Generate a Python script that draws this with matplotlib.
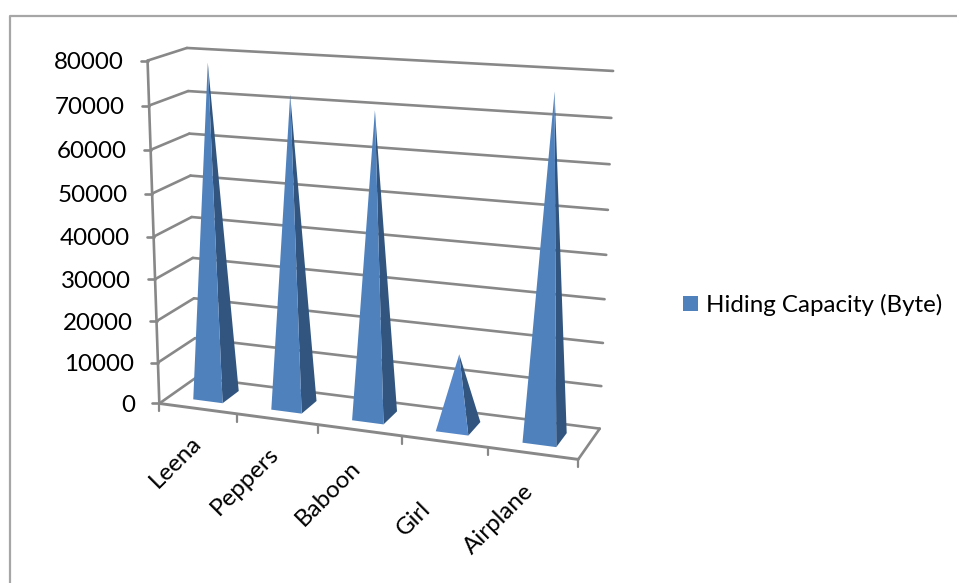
import numpy as np
import matplotlib
matplotlib.use("Agg")
import matplotlib.pyplot as plt
from matplotlib.patches import Polygon, Patch

plt.rcParams['font.family'] = ['Lato', 'DejaVu Sans']

categories = ["Leena", "Peppers", "Baboon", "Girl", "Airplane"]
capacity = [78600, 72600, 70300, 17000, 76700]
series_name = "Hiding Capacity (Byte)"
y_ticks = [0, 10000, 20000, 30000, 40000, 50000, 60000, 70000, 80000]
Y_MAX = 80000

# Box calibration for the oblique 3-D view: (x, depth, height) -> pixel
BOX = [(0, 0, 0), (0, 0, 1), (0, 1, 0), (0, 1, 1), (1, 1, 0), (1, 1, 1), (1, 0, 0)]
PIX = [(160.5, 403), (146.5, 60.5), (195, 378), (188, 48), (600, 428), (613, 71), (578, 460)]


def fit_projection(box, pix):
    rows = []
    for (x, d, h), (u, v) in zip(box, pix):
        u, v = u / 1000, v / 1000
        rows.append([x, d, h, 1, 0, 0, 0, 0, -u * x, -u * d, -u * h, -u])
        rows.append([0, 0, 0, 0, x, d, h, 1, -v * x, -v * d, -v * h, -v])
    return np.linalg.svd(np.array(rows))[2][-1].reshape(3, 4)


P = fit_projection(BOX, PIX)


def proj(x, d, value):
    w = P @ np.array([x, d, value / Y_MAX, 1.0])
    return w[0] / w[2] * 1000, w[1] / w[2] * 1000


fig = plt.figure(figsize=(9.57, 5.83), dpi=100)
ax = fig.add_axes([0, 0, 1, 1])
ax.set_xlim(0, 957)
ax.set_ylim(583, 0)
ax.axis("off")

GRID = "#888888"
LW = 1.9
FS = 17.4


def seg(a, b, lw=LW, color=GRID, z=1):
    ax.plot([a[0], b[0]], [a[1], b[1]], color=color, lw=lw, zorder=z,
            solid_capstyle="round")


# outer chart frame
ax.plot([9.5, 9.5, 957], [583, 15.5, 15.5], color="#a6a6a6", lw=1.6, zorder=0)

# gridlines on side and back walls, ticks and labels
for t in y_ticks:
    fl, bl, br = proj(0, 0, t), proj(0, 1, t), proj(1, 1, t)
    seg(fl, bl)
    seg(bl, br)
    seg((fl[0] - 7, fl[1]), fl)
    ax.text(fl[0] - 24, fl[1] + 2, f"{t}", ha="right", va="center",
            fontsize=FS, color="black", zorder=5)

# vertical axis and floor
seg(proj(0, 0, 0), proj(0, 0, Y_MAX))
seg(proj(0, 0, 0), proj(1, 0, 0), lw=2.1)
seg(proj(1, 0, 0), proj(1, 1, 0))
n = len(categories)
for i in range(n + 1):
    a = proj(i / n, 0, 0)
    seg(a, (a[0], a[1] + 8), lw=1.6)

# pyramids
HALF_W, D0, D1 = 0.038, 0.27, 0.73
FRONT, SIDE = "#4F81BD", "#32557F"
for i, (name, val) in enumerate(zip(categories, capacity)):
    c = (i + 0.5) / n
    fl, fr = proj(c - HALF_W, D0, 0), proj(c + HALF_W, D0, 0)
    br = proj(c + HALF_W, D1, 0)
    apex = proj(c, (D0 + D1) / 2, val)
    ax.add_patch(Polygon([fr, br, apex], closed=True, fc=SIDE, ec="none", zorder=3 + i * 0.01))
    ax.add_patch(Polygon([fl, fr, apex], closed=True,
                         fc="#5587C9" if val < 30000 else FRONT, ec="none", zorder=3 + i * 0.01))

# category labels
LABEL_ENDS = [(190, 432), (268, 443), (350, 457), (420, 498), (523, 481)]
for name, (x, y) in zip(categories, LABEL_ENDS):
    ax.text(x, y, name, rotation=45, rotation_mode="anchor", ha="right", va="top",
            fontsize=FS, color="black", zorder=5)

ax.legend(handles=[Patch(fc=FRONT, ec="none", label=series_name)], frameon=False,
          loc="center left", bbox_to_anchor=(676 / 957, 1 - 305 / 583), fontsize=FS,
          handlelength=0.6, handleheight=0.6, handletextpad=0.33,
          borderpad=0, borderaxespad=0.3, labelcolor="black")

fig.savefig("out.png", dpi=100)
